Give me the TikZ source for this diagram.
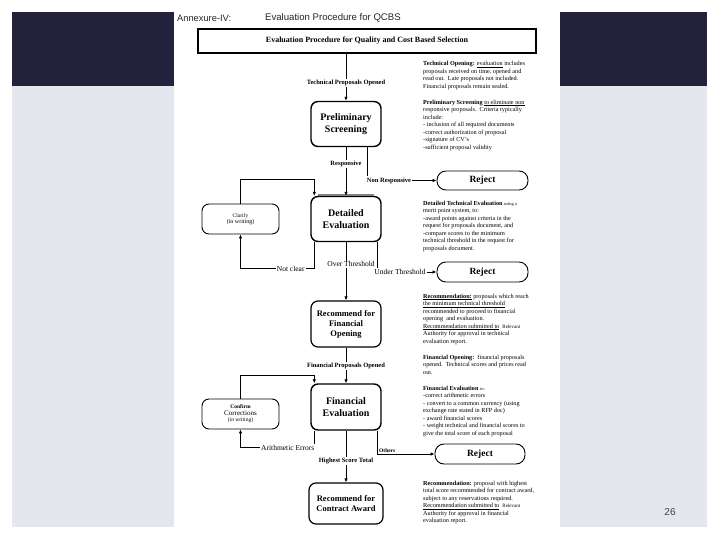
\documentclass[tikz,border=0pt]{standalone}
\usepackage{fontspec}
\setmainfont{Liberation Serif}
\newfontfamily\hsans{Liberation Sans}
\usetikzlibrary{arrows.meta}
\definecolor{navy}{HTML}{23223D}
\definecolor{slidegrey}{HTML}{E6E6EE}
\begin{document}
\begin{tikzpicture}[x=1pt,y=-1pt,
  box/.style={draw, line width=1.2pt, rounded corners=7pt, align=center, inner sep=1pt},
  bigbox/.style={box, line width=1.4pt, minimum width=70pt, minimum height=45pt, font=\fontsize{10}{11.5}\selectfont\bfseries},
  recbox/.style={box, minimum width=70pt, minimum height=46pt, font=\fontsize{8.5}{10}\selectfont\bfseries},
  sidebox/.style={box, line width=0.9pt, minimum width=77pt, minimum height=30pt, font=\fontsize{5.5}{6.5}\selectfont},
  rejectbox/.style={draw, line width=0.9pt, rounded corners=9pt, minimum width=91pt, minimum height=19pt, font=\fontsize{9.5}{11}\selectfont\bfseries},
  lbl/.style={fill=white, inner sep=1pt, font=\fontsize{6.5}{7.5}\selectfont\bfseries},
  rlbl/.style={fill=white, inner sep=1pt, font=\fontsize{7.5}{8.5}\selectfont},
  note/.style={anchor=north west, inner sep=0pt, align=left, font=\fontsize{6.2}{7.5}\selectfont},
  conn/.style={line width=0.9pt},
  arr/.style={conn, -{Latex[length=4pt,width=3.5pt]}},
]
\useasboundingbox (0,0) rectangle (720,540);
% slide background
\fill[white] (0,0) rectangle (720,540);
\fill[slidegrey] (12,86) rectangle (707,527);
\fill[navy] (12,12) rectangle (707,86);
\fill[white] (174,0) rectangle (560,527);
\node[anchor=west, inner sep=0pt, font=\hsans\fontsize{9.3}{10}\selectfont, text=black!85] (annex) at (177,18) {Annexure-IV:};
\node[anchor=west, inner sep=0pt, font=\hsans\fontsize{9.6}{10}\selectfont, text=black!85] (annextitle) at (265,18) {Evaluation Procedure for QCBS};
\node[font=\hsans\fontsize{10}{12}\selectfont, text=black!75] (pagenum) at (670,512) {26};

% boxes
\node[draw, line width=1.1pt, minimum width=338pt, minimum height=24pt, font=\fontsize{8}{9}\selectfont\bfseries] (titlebox) at (367,41) {Evaluation Procedure for Quality and Cost Based Selection};
\node[bigbox] (prelim) at (346,124) {Preliminary\\Screening};
\node[bigbox] (detailed) at (346,219) {Detailed\\Evaluation};
\node[recbox] (recfin) at (346,324) {Recommend for\\Financial\\Opening};
\node[bigbox, minimum height=46pt] (fineval) at (346,407) {Financial\\Evaluation};
\node[recbox, minimum width=74pt, minimum height=41pt] (contract) at (346,503.5) {Recommend for\\Contract Award};
\node[sidebox] (clarify) at (240.5,219) {Clarify\\{\fontsize{6}{7}\selectfont (in writing)}};
\node[sidebox] (confirm) at (240.5,414) {\textbf{Confirm}\\{\fontsize{7}{8}\selectfont Corrections}\\(in writing)};
\node[rejectbox] (reject1) at (482.5,180.5) {Reject};
\node[rejectbox, minimum height=20pt] (reject2) at (482.5,272) {Reject};
\node[rejectbox, minimum width=90pt, minimum height=20pt] (reject3) at (480,454) {Reject};
\draw[gray, line width=1.6pt] ([xshift=8pt,yshift=0.6pt]detailed.north west) -- ([xshift=-8pt,yshift=0.6pt]detailed.north east);

% main flow
\draw[arr] (titlebox.south -| prelim.north) -- node[lbl, pos=0.62] {Technical Proposals Opened} (prelim.north);
\draw[arr] (prelim.south) -- node[lbl, pos=0.34] {Responsive} (detailed.north);
\draw[arr] (detailed.south) -- node[fill=white, inner sep=1pt, font=\fontsize{7.5}{8.5}\selectfont, pos=0.38, xshift=5pt] {Over Threshold} (recfin.north);
\draw[arr] (recfin.south) -- node[lbl, pos=0.51] {Financial Proposals Opened} (fineval.north);
\draw[arr] (fineval.south) -- node[lbl, pos=0.58] {Highest Score Total} (contract.north);

% reject branches
\node[lbl] (nrlab) at (389,180.5) {Non Responsive};
\draw[conn] ([xshift=-14pt]prelim.south east) -- ([xshift=-14pt]prelim.south east |- nrlab.north);
\draw[arr] (nrlab.east) -- (reject1.west);
\node[rlbl] (utlab) at (400,272) {Under Threshold};
\draw[conn] ([xshift=-4pt]detailed.south east) -- ([xshift=-4pt]detailed.south east |- utlab.north);
\draw[arr] (utlab.east) -- (reject2.west);
\draw[arr] ([xshift=-4pt]fineval.south east) |- node[pos=0.5, anchor=south west, inner sep=1pt, font=\fontsize{5.5}{6.5}\selectfont\bfseries] {Others} (reject3.west);

% clarification loops
\draw[arr] (clarify.north) -- ++(0,-24) -| ([xshift=4pt]detailed.north west);
\draw[arr] ([xshift=4pt]detailed.south west) |- node[rlbl, pos=0.66] {Not clear} ([yshift=-34pt]clarify.south) -- (clarify.south);
\draw[arr] (confirm.north) -- ++(0,-23) -| ([xshift=4pt]fineval.north west);
\draw[arr] ([xshift=4pt]fineval.south west) |- node[rlbl, pos=0.68] {Arithmetic Errors} ([yshift=-18pt]confirm.south) -- (confirm.south);

% notes
\node[note] (n1) at (423,61.5) {\textbf{Technical Opening:} \underline{evaluation} includes\\proposals received on time, opened and\\read out.\ \ Late proposals not included.\\Financial proposals remain sealed.};
\node[note] (n2) at (423,99.5) {\textbf{Preliminary Screening} \underline{to eliminate non}\\responsive proposals.\ \ Criteria typically\\include:\\- inclusion of all required documents\\-correct authorization of proposal\\-signature of CV's\\-sufficient proposal validity};
\node[note] (n3) at (423,200.5) {\textbf{Detailed Technical Evaluation} {\fontsize{4.5}{5}\selectfont using a}\\merit point system, to:\\-award points against criteria in the\\request for proposals document, and\\-compare scores to the minimum\\technical threshold in the request for\\proposals document.};
\node[note] (n4) at (423,293.5) {\underline{\textbf{Recommendation:}} proposals which reach\\\underline{the minimum technical threshold}\\recommended to proceed to financial\\opening\ \ and evaluation.\\\underline{Recommendation submitted to}\ \ {\fontsize{5}{6}\selectfont Relevant}\\Authority for approval in technical\\evaluation report.};
\node[note] (n5) at (423,354.5) {\textbf{Financial Opening:}\ \ financial proposals\\opened.\ \ Technical scores and prices read\\out.};
\node[note] (n6) at (423,385.5) {\textbf{Financial Evaluation} {\fontsize{4.5}{5}\selectfont to:}\\-correct arithmetic errors\\- convert to a common currency (using\\exchange rate stated in RFP doc)\\- award financial scores\\- weight technical and financial scores to\\give the total score of each proposal};
\node[note] (n7) at (423,480.5) {\textbf{Recommendation:} proposal with highest\\total score recommended for contract award,\\subject to any reservations required.\\\underline{Recommendation submitted to}\ \ {\fontsize{5}{6}\selectfont Relevant}\\Authority for approval in financial\\evaluation report.};
\end{tikzpicture}
\end{document}
